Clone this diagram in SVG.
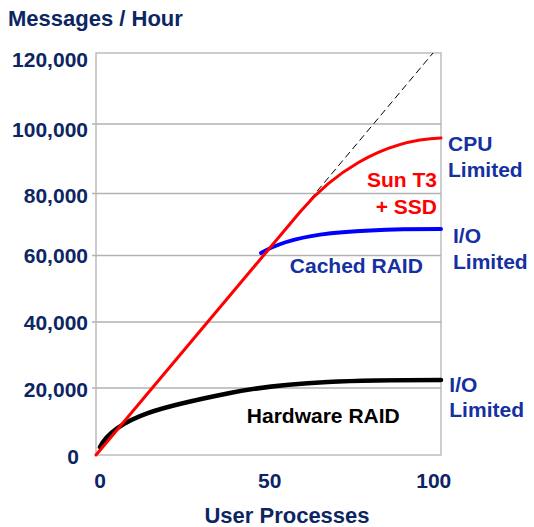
<svg xmlns="http://www.w3.org/2000/svg" width="534" height="527" viewBox="0 0 534 527">
<style>
text{font-family:"Liberation Sans",Arial,sans-serif;font-weight:bold}
.ax{fill:#0c2563;font-size:21px}
.ttl{fill:#0c2563;font-size:22px}
.lbl{fill:#1530a0;font-size:21px}
.grid{stroke:#b3b3b3;stroke-width:1.3;fill:none}
.curve{fill:none;stroke-linecap:round;stroke-linejoin:round}
</style>
<rect width="534" height="527" fill="#fff"/>
<g id="plot-frame">
<path class="grid" d="M96,124H441M96,193.5H441M96,255.5H441M96,322H441M96,388H441"/>
<path class="grid" d="M92,124H96M92,193.5H96M92,255.5H96M92,322H96M92,388H96"/>
<rect x="96" y="53" width="345" height="402" class="grid" stroke-width="1.5"/>
</g>
<g id="y-axis">
<text class="ttl" x="8" y="26">Messages / Hour</text>
<g text-anchor="end">
<text class="ax" x="88" y="66.7">120,000</text>
<text class="ax" x="88" y="137.3">100,000</text>
<text class="ax" x="88" y="203.3">80,000</text>
<text class="ax" x="88" y="262.7">60,000</text>
<text class="ax" x="88" y="330">40,000</text>
<text class="ax" x="88" y="396.7">20,000</text>
<text class="ax" x="79" y="464.3">0</text>
</g>
</g>
<g id="x-axis" text-anchor="middle">
<text class="ax" x="100" y="487.5">0</text>
<text class="ax" x="269.7" y="487.5">50</text>
<text class="ax" x="433.8" y="487.5">100</text>
<text class="ttl" x="287" y="523">User Processes</text>
</g>
<g id="connectors">
<path id="trend-dashed" d="M303,208L433,53" fill="none" stroke="#000" stroke-width="1" stroke-dasharray="7,4"/>
<path id="hardware-raid-curve" class="curve" d="M100,447C116,416 170,405 230,393C290,381 360,380 441,380" stroke="#000" stroke-width="4.5"/>
<path id="cached-raid-curve" class="curve" d="M261,253C290,236 330,229 441,229" stroke="#0000ff" stroke-width="4"/>
<path id="sun-t3-curve" class="curve" d="M96,455L300,212C330,176 380,140 441,138" stroke="#ff0000" stroke-width="3"/>
</g>
<g id="label-sun-t3" fill="#ff0000" text-anchor="end">
<text x="437" y="186.7" style="font-size:21px">Sun T3</text>
<text x="437" y="214" style="font-size:21px">+ SSD</text>
</g>
<g id="label-cpu-limited">
<text class="lbl" x="448" y="151">CPU</text>
<text class="lbl" x="448" y="176.7">Limited</text>
</g>
<g id="label-cached-raid">
<text class="lbl" x="356.3" y="273.3" text-anchor="middle">Cached RAID</text>
</g>
<g id="label-io-limited-1">
<text class="lbl" x="453" y="243">I/O</text>
<text class="lbl" x="453" y="269.3">Limited</text>
</g>
<g id="label-hardware-raid">
<text x="323.3" y="422.7" text-anchor="middle" fill="#000" style="font-size:21px">Hardware RAID</text>
</g>
<g id="label-io-limited-2">
<text class="lbl" x="449.3" y="392.3">I/O</text>
<text class="lbl" x="449.3" y="417.3">Limited</text>
</g>
</svg>
